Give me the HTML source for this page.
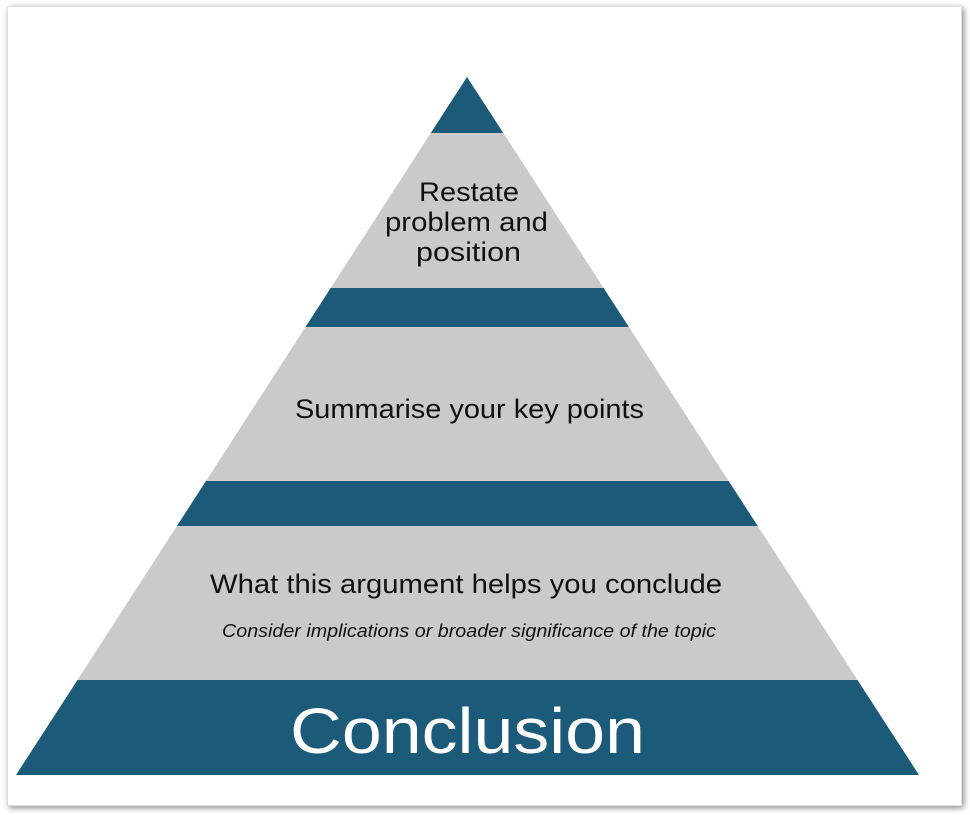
<!DOCTYPE html>
<html><head><meta charset="utf-8"><style>
html,body{margin:0;padding:0;background:#fff;width:970px;height:815px;overflow:hidden}
.frame{position:absolute;left:7px;top:6px;width:955px;height:800px;background:#fff;box-shadow:2px 2px 6px rgba(0,0,0,0.45);border:1px solid #ddd;box-sizing:border-box}
svg{position:absolute;left:0;top:0}
</style></head><body>
<div class="frame"></div>
<svg width="970" height="815" viewBox="0 0 970 815" font-family="'Liberation Sans',sans-serif">
<polygon points="467,77 503.3,133 430.8,133" fill="#1c5a7a"/>
<polygon points="430.8,133 503.3,133 603.6,288 330.7,288" fill="#cacaca"/>
<polygon points="330.7,288 603.6,288 628.9,327 305.5,327" fill="#1c5a7a"/>
<polygon points="305.5,327 628.9,327 728.6,481 206,481" fill="#cacaca"/>
<polygon points="206,481 728.6,481 757.8,526 176.9,526" fill="#1c5a7a"/>
<polygon points="176.9,526 757.8,526 857.5,680 77.5,680" fill="#cacaca"/>
<polygon points="77.5,680 857.5,680 919,775 16,775" fill="#1c5a7a"/>
<g fill="#111" font-size="27" lengthAdjust="spacingAndGlyphs">
<text x="419" y="201" textLength="100" lengthAdjust="spacingAndGlyphs">Restate</text>
<text x="385" y="231" textLength="163" lengthAdjust="spacingAndGlyphs">problem and</text>
<text x="416" y="261" textLength="105" lengthAdjust="spacingAndGlyphs">position</text>
<text x="295" y="418" textLength="349" lengthAdjust="spacingAndGlyphs">Summarise your key points</text>
<text x="210" y="593" textLength="512" lengthAdjust="spacingAndGlyphs">What this argument helps you conclude</text>
</g>
<text x="222" y="637" font-size="18" font-style="italic" fill="#111" textLength="494" lengthAdjust="spacingAndGlyphs">Consider implications or broader significance of the topic</text>
<text x="290" y="753" font-size="64" fill="#fff" textLength="355" lengthAdjust="spacingAndGlyphs">Conclusion</text>
</svg>
</body></html>
